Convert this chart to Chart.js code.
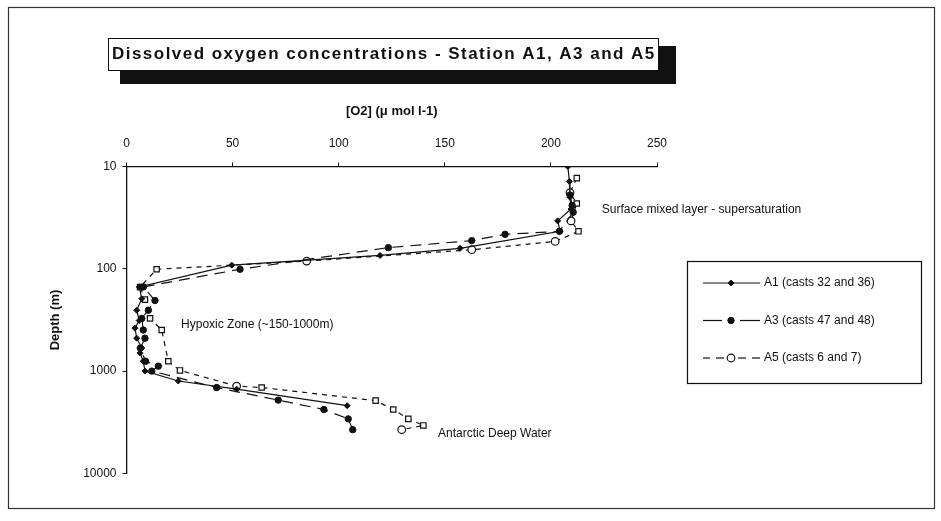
<!DOCTYPE html>
<html><head><meta charset="utf-8">
<script src="https://cdn.jsdelivr.net/npm/chart.js@4.4.1/dist/chart.umd.min.js"></script>
<style>html,body{margin:0;padding:0;background:#fff}canvas{display:block}</style>
</head><body>
<canvas id="c" width="941" height="521"></canvas>
<script>
// ---- data (depth in m, O2 in µmol l-1) ----
const A1_DEPTH = [10, 14, 20, 26, 34, 43, 63, 74, 92, 150, 196, 254, 320, 380, 476, 594, 665, 800, 998, 1248, 1500, 2175];
const A1_O2    = [208, 208.7, 209, 209.5, 203.2, 204.3, 157.2, 119.5, 49.6, 6, 7.2, 4.8, 6, 4, 4.8, 7.2, 6.4, 7.9, 8.7, 24.4, 51.9, 104];
const A3_DEPTH = [19, 24, 28, 43, 46, 53, 62, 101, 150, 204, 254, 305, 396, 476, 594, 800, 893, 998, 1446, 1918, 2370, 2925, 3730];
const A3_O2    = [209, 210, 210.5, 204, 178.4, 162.7, 123.4, 53.5, 8, 13.4, 10.3, 7.2, 7.9, 8.7, 6.5, 9, 15, 11.9, 42.5, 71.5, 93, 104.5, 106.6];
const A5_DEPTH = [13, 18, 23, 34, 43, 54, 65, 84, 101, 151, 200, 305, 396, 800, 984, 1400, 1445, 1940, 2370, 2925, 3390, 3730];
const A5_O2    = [212.2, 209, 212.2, 209.5, 213, 202, 162.7, 84.9, 14.2, 6.4, 8.7, 11.1, 16.6, 19.7, 25.2, 51.9, 63.7, 117.4, 125.7, 132.8, 139.9, 129.7];
const SERIES_NAMES = ['A1 (casts 32 and 36)', 'A3 (casts 47 and 48)', 'A5 (casts 6 and 7)'];
const X_TICKS = [0, 50, 100, 150, 200, 250];
const Y_TICKS = [10, 100, 1000, 10000];
const TITLE = 'Dissolved oxygen concentrations - Station A1, A3 and A5';
const X_TITLE = '[O2] (\u03bc mol l-1)';
const Y_TITLE = 'Depth (m)';
const NOTES = [
  {text: 'Surface mixed layer - supersaturation', o2: 224, depth: 26.6},
  {text: 'Hypoxic Zone (~150-1000m)', o2: 25.7, depth: 354},
  {text: 'Antarctic Deep Water', o2: 146.8, depth: 4120}
];
// marker style of each A5 point (casts 6 / 7 drawn differently)
const A5_MARKERS = ['rect','circle','rect','circle','rect','circle','circle','circle','rect','rect','rect','rect','rect','rect','rect','circle','rect','rect','rect','rect','rect','circle'];

const FONT = "'Liberation Sans', Arial, sans-serif";
const INK = '#111';
const pts = (d, v) => d.map((y, i) => ({x: v[i], y}));

function marker(c, st, r, x, y, fill, bw) {
  c.fillStyle = fill; c.strokeStyle = INK; c.lineWidth = bw;
  c.beginPath();
  if (st === 'circle') c.arc(x, y, r, 0, Math.PI * 2);
  else if (st === 'rectRot') { c.moveTo(x, y - r); c.lineTo(x + r, y); c.lineTo(x, y + r); c.lineTo(x - r, y); c.closePath(); }
  else c.rect(x - r, y - r, 2 * r, 2 * r);
  c.fill(); c.stroke();
}

const deco = {
  id: 'deco',
  beforeDraw(chart) {
    const c = chart.ctx;
    c.save(); c.fillStyle = '#fff'; c.fillRect(0, 0, chart.width, chart.height); c.restore();
  },
  afterDraw(chart) {
    const c = chart.ctx;
    c.save();
    // outer frame
    c.strokeStyle = '#333'; c.lineWidth = 1.2;
    c.strokeRect(8.5, 7.5, 926, 501);
    // title box with shadow
    c.fillStyle = INK;
    c.fillRect(120, 70, 556, 14);
    c.fillRect(658, 46, 18, 38);
    c.fillStyle = '#fff';
    c.fillRect(108, 38, 550, 32);
    c.strokeStyle = INK; c.lineWidth = 1;
    c.strokeRect(108.5, 38.5, 550, 32);
    c.fillStyle = INK;
    c.font = 'bold 17px ' + FONT;
    c.textBaseline = 'middle'; c.textAlign = 'left';
    const target = 542;
    c.letterSpacing = '0px';
    const w0 = c.measureText(TITLE).width;
    const ls = (target - w0) / (TITLE.length - 1);
    c.letterSpacing = ls.toFixed(2) + 'px';
    c.fillText(TITLE, 112, 54);
    c.letterSpacing = '0px';
    // annotations
    const xs = chart.scales.x, ys = chart.scales.y;
    c.font = '12px ' + FONT;
    NOTES.forEach(n => c.fillText(n.text, xs.getPixelForValue(n.o2), ys.getPixelForValue(n.depth)));
    // legend
    const L = 687, T = 261, W = 234, H = 122;
    c.fillStyle = '#fff'; c.fillRect(L, T, W, H);
    c.strokeStyle = INK; c.lineWidth = 1.2; c.strokeRect(L + 0.5, T + 0.5, W, H);
    const segs = [
      [[703, 760]],
      [[703, 722], [740, 760]],
      [[703, 710], [716, 724], [738, 746], [752, 760]]
    ];
    chart.data.datasets.forEach((ds, i) => {
      const y = 283 + i * 37.5;
      c.strokeStyle = INK; c.lineWidth = ds.borderWidth;
      segs[i].forEach(s => { c.beginPath(); c.moveTo(s[0], y); c.lineTo(s[1], y); c.stroke(); });
      const st = Array.isArray(ds.pointStyle) ? 'circle' : ds.pointStyle;
      marker(c, st, ds.pointRadius, 731, y, ds.pointBackgroundColor, ds.pointBorderWidth || 1);
      c.fillStyle = INK; c.font = '12px ' + FONT; c.textAlign = 'left'; c.textBaseline = 'middle';
      c.fillText(ds.label, 764, y);
    });
    c.restore();
  }
};

new Chart(document.getElementById('c'), {
  type: 'line',
  data: {
    datasets: [
      {label: SERIES_NAMES[0], data: pts(A1_DEPTH, A1_O2), borderColor: INK, borderWidth: 1.2, borderDash: [],
       pointStyle: 'rectRot', pointRadius: 3, pointBackgroundColor: INK, pointBorderColor: INK, pointBorderWidth: 1, tension: 0},
      {label: SERIES_NAMES[1], data: pts(A3_DEPTH, A3_O2), borderColor: INK, borderWidth: 1.2, borderDash: [11, 7],
       pointStyle: 'circle', pointRadius: 3.2, pointBackgroundColor: INK, pointBorderColor: INK, pointBorderWidth: 1, tension: 0},
      {label: SERIES_NAMES[2], data: pts(A5_DEPTH, A5_O2), borderColor: INK, borderWidth: 1.2, borderDash: [5, 5],
       pointStyle: A5_MARKERS, pointRadius: 3.8, pointBackgroundColor: '#fff', pointBorderColor: INK, pointBorderWidth: 1.2, tension: 0}
    ]
  },
  options: {
    responsive: false, animation: false,
    layout: {padding: {left: 44, top: 95, right: 284, bottom: 47.5}},
    plugins: {legend: {display: false}, tooltip: {enabled: false}, title: {display: false}},
    scales: {
      x: {
        type: 'linear', position: 'top', min: 0, max: 250,
        afterBuildTicks: s => { s.ticks = X_TICKS.map(v => ({value: v})); },
        afterFit: s => { s.height = 71.5; },
        grid: {drawOnChartArea: false, tickLength: 4, color: INK, lineWidth: 1},
        border: {color: INK, width: 1.3},
        ticks: {color: INK, font: {family: FONT, size: 12}, padding: 12, maxRotation: 0},
        title: {display: true, text: X_TITLE, color: INK, font: {family: FONT, size: 13, weight: 'bold'}, padding: {top: 9, bottom: 0}}
      },
      y: {
        type: 'logarithmic', reverse: true, min: 10, max: 10000,
        afterBuildTicks: s => { s.ticks = Y_TICKS.map(v => ({value: v})); },
        afterFit: s => { s.width = 82.5; },
        grid: {drawOnChartArea: false, tickLength: 4, color: INK, lineWidth: 1},
        border: {color: INK, width: 1.3},
        ticks: {color: INK, font: {family: FONT, size: 12}, padding: 6, callback: v => String(v)},
        title: {display: true, text: Y_TITLE, color: INK, font: {family: FONT, size: 13, weight: 'bold'}, padding: {top: 4, bottom: 0}}
      }
    }
  },
  plugins: [deco]
});
</script>
</body></html>
